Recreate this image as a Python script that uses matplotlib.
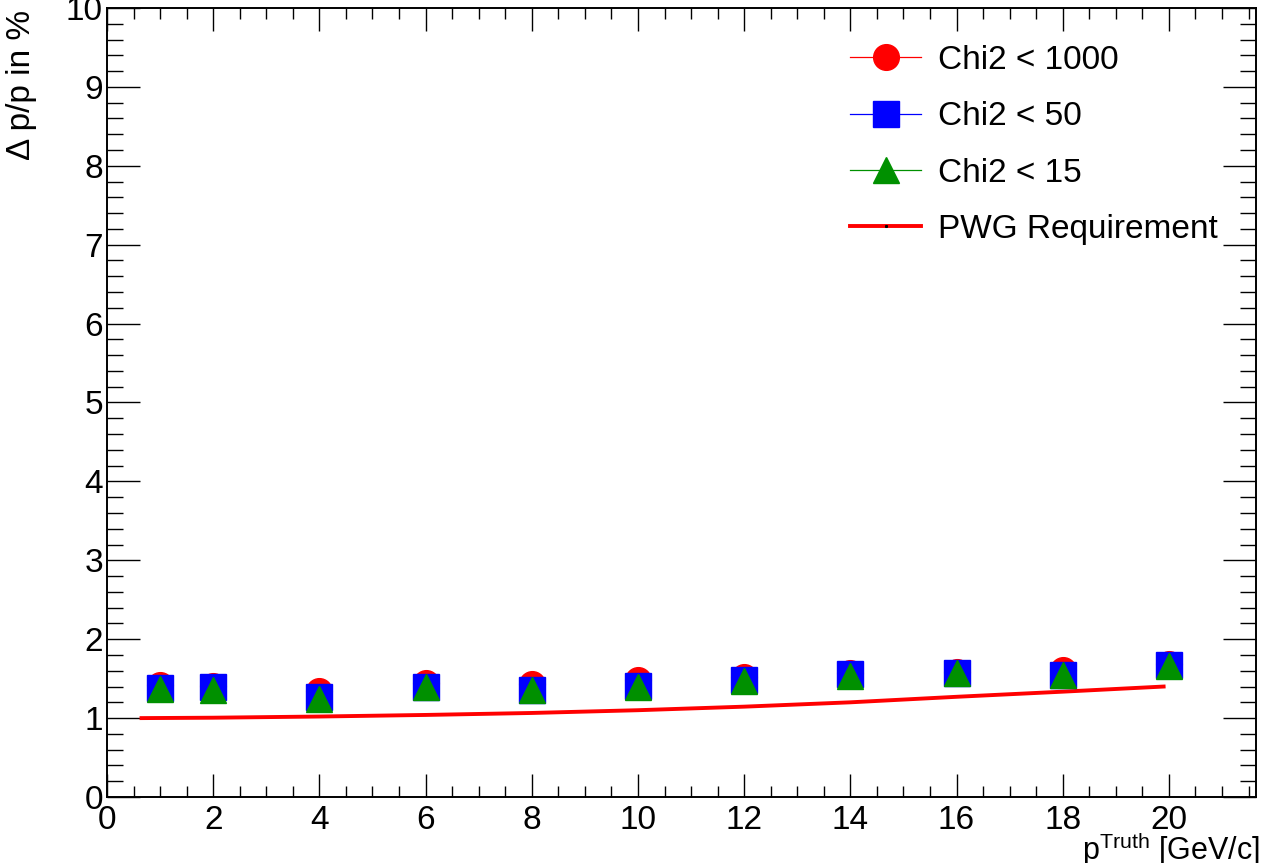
import numpy as np
import matplotlib
matplotlib.use("Agg")
from matplotlib import pyplot as plt
from matplotlib.ticker import MultipleLocator
from matplotlib.lines import Line2D

# values
p_truth = [1, 2, 4, 6, 8, 10, 12, 14, 16, 18, 20]
chi2_1000 = [1.42, 1.41, 1.34, 1.44, 1.43, 1.48, 1.52, 1.57, 1.58, 1.61, 1.68]
chi2_50 = [1.385, 1.39, 1.27, 1.40, 1.36, 1.41, 1.48, 1.565, 1.57, 1.54, 1.67]
chi2_15 = [1.37, 1.35, 1.24, 1.39, 1.35, 1.40, 1.47, 1.53, 1.57, 1.545, 1.665]

pwg_p = [0.65, 2, 4, 6, 8, 10, 12, 14, 16, 18, 19.9]
pwg_req = [1.00, 1.005, 1.02, 1.04, 1.065, 1.10, 1.145, 1.20, 1.27, 1.335, 1.40]

plt.rcParams['font.family'] = ['Liberation Sans', 'DejaVu Sans']
plt.rcParams['mathtext.fontset'] = 'custom'
plt.rcParams['mathtext.rm'] = 'Liberation Sans'

fig = plt.figure(figsize=(12.72, 8.63), dpi=100)
ax = fig.add_axes([107/1272, 1 - 797/863, (1256 - 107)/1272, (797 - 8)/863])

green = '#009000'
ms = 18.5
ax.plot(p_truth, chi2_1000, ls='none', marker='o', ms=ms, color='red', mec='red', zorder=3)
ax.plot(p_truth, chi2_50, ls='none', marker='s', ms=ms, color='blue', mec='blue', zorder=4)
ax.plot(p_truth, chi2_15, ls='none', marker='^', ms=ms, color=green, mec=green, zorder=5)
ax.plot(pwg_p, pwg_req, color='red', lw=2.8, zorder=2)

ax.set_xlim(0, 21.64)
ax.set_ylim(0, 10)
ax.xaxis.set_major_locator(MultipleLocator(2))
ax.xaxis.set_minor_locator(MultipleLocator(0.5))
ax.yaxis.set_major_locator(MultipleLocator(1))
ax.yaxis.set_minor_locator(MultipleLocator(0.2))

for s in ax.spines.values():
    s.set_linewidth(1.4)
ax.tick_params(which='both', direction='in', top=True, right=True,
               labelsize=24, width=1.0)
ax.tick_params(axis='x', pad=6)
ax.tick_params(axis='y', pad=3)
ax.tick_params(axis='y', which='major', length=23.5)
ax.tick_params(axis='y', which='minor', length=11.5)
ax.tick_params(axis='x', which='major', length=16.5)
ax.tick_params(axis='x', which='minor', length=8)

# legend handles with a thin line through the markers
handles = [
    Line2D([], [], color='red', lw=0.9, marker='o', ms=ms),
    Line2D([], [], color='blue', lw=0.9, marker='s', ms=ms),
    Line2D([], [], color=green, lw=0.9, marker='^', ms=ms),
    Line2D([], [], color='red', lw=2.8, marker='s', ms=1.2, mfc='black', mec='black'),
]
labels = ['Chi2 < 1000', 'Chi2 < 50', 'Chi2 < 15', 'PWG Requirement']
ax.legend(handles, labels, loc='upper left', bbox_to_anchor=(850/1272, 1 - 45/863),
          bbox_transform=fig.transFigure, frameon=False, fontsize=24,
          handlelength=2.13, handletextpad=0.5, labelspacing=0.76,
          borderpad=0, borderaxespad=0)

fig.text(0.9906, 0.0035, r'p$^{\mathrm{Truth}}$ [GeV/c]', ha='right', va='baseline',
         fontsize=22)
fig.text(22/1272, 1 - 10/863, '\u0394 p/p in %', rotation=90, ha='center', va='top',
         fontsize=24)

fig.savefig('out.png', dpi=100)
